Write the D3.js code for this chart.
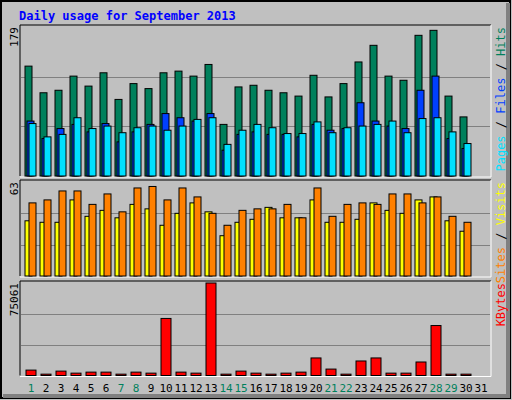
<!DOCTYPE html>
<html><head><meta charset="utf-8">
<script src="https://cdn.jsdelivr.net/npm/d3@7"></script>
<style>body{margin:0;background:#fff}svg{display:block}</style>
</head><body>
<script>
const days = d3.range(1,32);
const weekend = [1,7,8,14,15,21,22,28,29];
const hits  = [132,100,103,120,108,124,92,111,105,124,126,120,134,62,107,109,103,100,96,121,95,111,137,157,120,115,169,175,96,71,0];
const files = [66,45,57,62,53,63,41,53,62,75,70,66,75,31,50,53,50,50,47,62,55,57,88,66,60,57,103,120,45,33,0];
const pages = [63,47,50,70,57,60,52,58,60,55,60,68,70,38,55,62,58,51,51,65,52,58,60,62,66,52,69,70,53,39,0];
const visits= [37,36,36,51,40,44,39,48,45,34,42,49,43,27,36,38,46,39,39,51,36,36,38,49,44,42,51,53,37,30,0];
const sites = [49,51,57,57,48,55,43,59,60,51,59,53,42,34,44,45,45,48,39,59,40,48,49,48,55,55,49,53,40,36,0];
const kbytes= [4383,1096,3561,1918,2739,2739,1096,2739,1918,46297,2739,1918,75061,1096,3561,1918,1096,1918,2739,14245,5205,1096,11780,14245,1918,1918,10958,40544,1096,1096,0];
const maxTop=179, maxMid=63, maxBot=75061;

const W=512,H=400;
const svg=d3.select("body").append("svg").attr("width",W).attr("height",H);
const F="'DejaVu Sans Mono', monospace";
svg.append("rect").attr("x",0).attr("y",0).attr("width",W).attr("height",H).attr("fill","#C0C0C0");
svg.append("path").attr("d","M1,1H510V398H1Z").attr("fill","none").attr("stroke","#000").attr("stroke-width",2);
svg.append("path").attr("d","M508,3V396H3").attr("fill","none").attr("stroke","#808080").attr("stroke-width",4);
svg.append("text").attr("x",19).attr("y",20).text("Daily usage for September 2013")
  .attr("font-family",F).attr("font-weight","bold").attr("font-size",12).attr("fill","#0000FF");

const x=d3.scaleBand().domain(days).range([20.5,485.5]).paddingInner(0).paddingOuter(0);
const bx=d=>x(d)+4.5;

function panel(y0,y1,maxv,label,lblSegs){
  svg.append("line").attr("x1",20).attr("x2",491).attr("y1",y0).attr("y2",y0).attr("stroke","#000");
  svg.append("line").attr("x1",20).attr("x2",20).attr("y1",y0).attr("y2",y1).attr("stroke","#000");
  svg.append("line").attr("x1",491).attr("x2",491).attr("y1",y0).attr("y2",y1+1).attr("stroke","#fff");
  svg.append("line").attr("x1",20).attr("x2",491).attr("y1",y1+1).attr("y2",y1+1).attr("stroke","#fff");
  const y=d3.scaleLinear().domain([0,maxv]).range([y1,y0+2]);
  [1/3,2/3].forEach(f=>{const gy=Math.round(y(maxv*f))+0.5;
    svg.append("line").attr("x1",21).attr("x2",490).attr("y1",gy).attr("y2",gy).attr("stroke","#808080");});
  svg.append("text").attr("transform",`translate(18,${y0+2}) rotate(-90)`).attr("text-anchor","end")
    .attr("font-family",F).attr("font-size",11).text(label);
  const t=svg.append("text").attr("transform",`translate(505,${y0+2}) rotate(-90)`).attr("text-anchor","end")
    .attr("font-family",F).attr("font-size",12);
  lblSegs.forEach(s=>t.append("tspan").attr("fill",s[1]).text(s[0]));
  return y;
}
function bars(data,y,off,w,col){
  svg.append("g").selectAll("rect").data(days.filter((d,i)=>data[i]>0)).join("rect")
    .attr("x",d=>bx(d)+off).attr("width",w)
    .attr("y",d=>y(data[d-1])).attr("height",d=>y(0)-y(data[d-1]))
    .attr("fill",col).attr("stroke","#000").attr("stroke-width",1);
}
const yT=panel(25,176,maxTop,"179",[["Pages","#00E0FF"],[" / ","#000"],["Files","#0040FF"],[" / ","#000"],["Hits","#00805C"]]);
bars(hits,yT,0,7,"#00805C");
bars(files,yT,2,7,"#0040FF");
bars(pages,yT,4,7,"#00E0FF");
const yM=panel(180,276,maxMid,"63",[["Sites","#FF8000"],[" / ","#000"],["Visits","#FFFF00"]]);
bars(visits,yM,0,7,"#FFFF00");
bars(sites,yM,4,7,"#FF8000");
const yB=panel(281,375.5,maxBot,"75061",[["KBytes","#FF0000"]]);
bars(kbytes,yB,1,10,"#FF0000");

svg.append("g").selectAll("text").data(days).join("text")
  .attr("x",d=>bx(d)+6).attr("y",392).attr("text-anchor","middle")
  .attr("font-family",F).attr("font-size",11)
  .attr("fill",d=>weekend.includes(d)?"#00805C":"#000").text(d=>d);
</script>
</body></html>
